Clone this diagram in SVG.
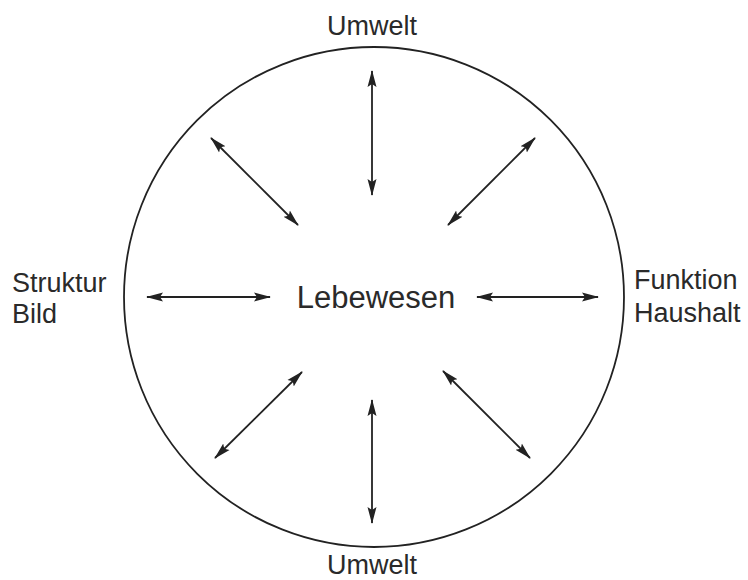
<svg xmlns="http://www.w3.org/2000/svg" width="748" height="580" viewBox="0 0 748 580">
<style>
.t{font-family:"Liberation Sans",Arial,sans-serif;fill:#2a2a2a}
.c{stroke:#222;stroke-width:1.8;fill:none;marker-start:url(#ah);marker-end:url(#ah)}
</style>
<defs>
<marker id="ah" viewBox="0 0 17 10" refX="16" refY="5" markerWidth="17" markerHeight="10" markerUnits="userSpaceOnUse" orient="auto-start-reverse">
<path d="M0,0.5 L17,5 L0,9.5 L3,5 Z" fill="#222"/>
</marker>
</defs>
<rect width="748" height="580" fill="#fff"/>
<g id="circle"><circle cx="374" cy="297" r="250" fill="none" stroke="#222" stroke-width="1.8"/></g>
<g id="center"><text class="t" x="376" y="308" font-size="31" text-anchor="middle">Lebewesen</text></g>
<g id="top"><text class="t" x="372" y="35" font-size="27" text-anchor="middle">Umwelt</text></g>
<g id="bottom"><text class="t" x="372" y="574" font-size="27" text-anchor="middle">Umwelt</text></g>
<g id="left"><text class="t" x="12" y="292" font-size="27">Struktur</text><text class="t" x="12" y="323" font-size="27">Bild</text></g>
<g id="right"><text class="t" x="634" y="289" font-size="27">Funktion</text><text class="t" x="634" y="322" font-size="27">Haushalt</text></g>
<g id="connectors">
<line class="c" x1="372" y1="71" x2="372" y2="195"/>
<line class="c" x1="372" y1="400" x2="372" y2="523"/>
<line class="c" x1="147" y1="297" x2="270" y2="297"/>
<line class="c" x1="477" y1="297" x2="598" y2="297"/>
<line class="c" x1="211" y1="138" x2="298" y2="225"/>
<line class="c" x1="535" y1="138" x2="448" y2="225"/>
<line class="c" x1="302" y1="372" x2="215" y2="458"/>
<line class="c" x1="443" y1="371" x2="530" y2="458"/>
</g>
</svg>
